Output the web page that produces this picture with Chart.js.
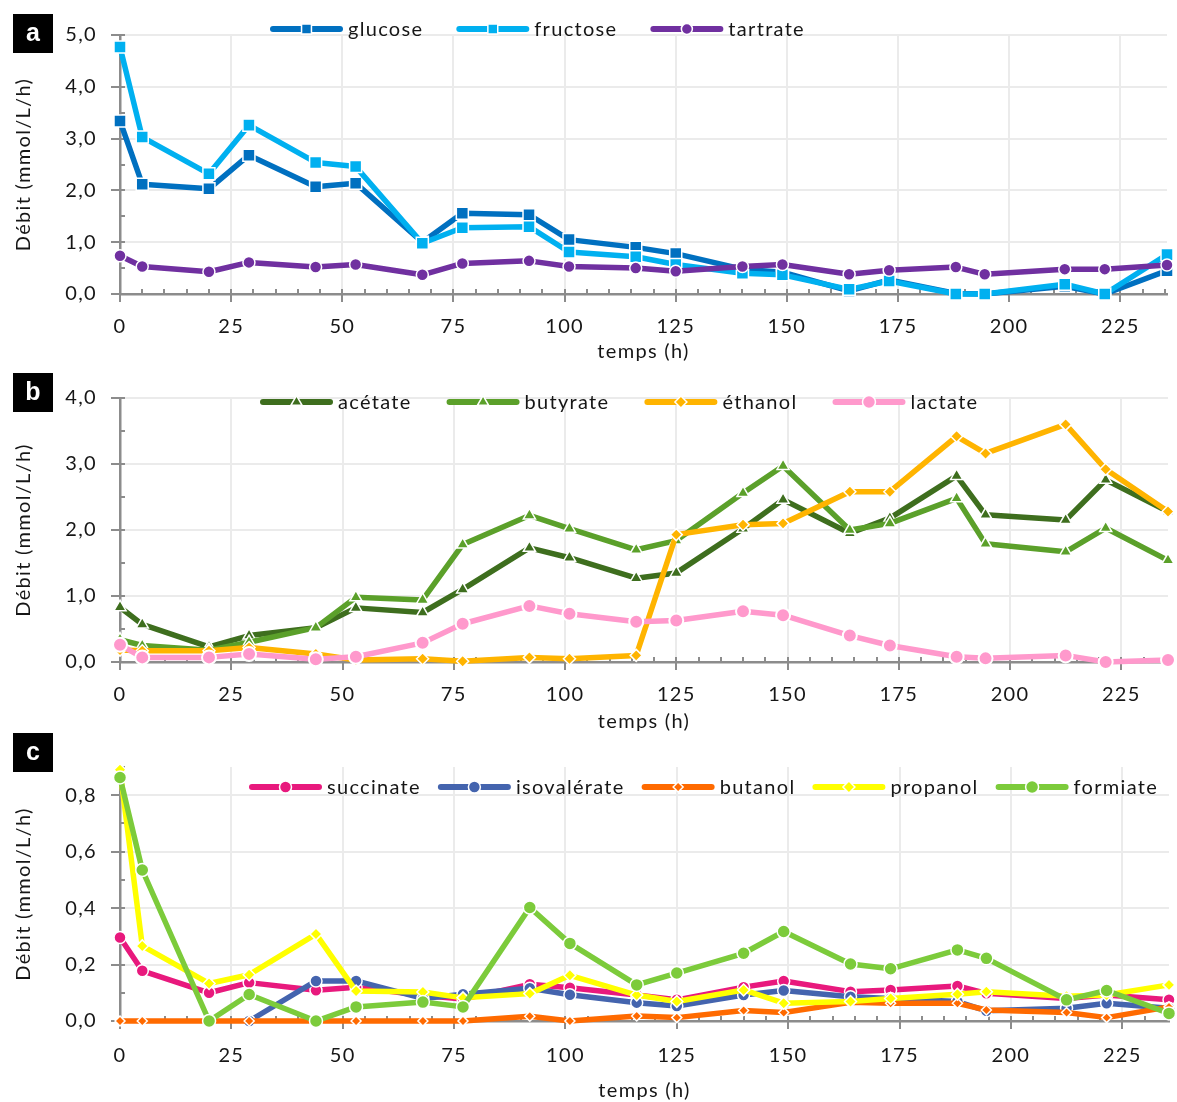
<!DOCTYPE html>
<html lang="fr">
<head>
<meta charset="utf-8">
<title>Débits – fermentation</title>
<script src="https://cdn.jsdelivr.net/npm/chart.js@4.4.1/dist/chart.umd.min.js"></script>
<style>
  html, body { margin: 0; padding: 0; background: #ffffff; }
  body { width: 1177px; height: 1102px; position: relative; overflow: hidden; }
  canvas { position: absolute; left: 0; }
</style>
</head>
<body>
<canvas id="panelA" width="1177" height="365" style="top:0px"></canvas>
<canvas id="panelB" width="1177" height="370" style="top:365px"></canvas>
<canvas id="panelC" width="1177" height="372" style="top:730px"></canvas>
<script>
// Sampling times (h)
const hours = [0, 5, 20, 29, 44, 53, 68, 77, 92, 101, 116, 125, 140, 149, 164, 173, 188, 194.5, 212.5, 221.5, 235.5];

// Panel a – sugars and tartrate (mmol/L/h)
const glucose  = [3.34, 2.12, 2.03, 2.68, 2.07, 2.14, 1.00, 1.56, 1.53, 1.05, 0.90, 0.78, 0.48, 0.42, 0.06, 0.27, 0.01, 0.00, 0.15, 0.00, 0.45];
const fructose = [4.77, 3.03, 2.32, 3.26, 2.54, 2.46, 0.98, 1.28, 1.30, 0.81, 0.72, 0.57, 0.40, 0.37, 0.09, 0.25, 0.00, 0.00, 0.19, 0.00, 0.76];
const tartrate = [0.74, 0.53, 0.43, 0.61, 0.52, 0.57, 0.37, 0.59, 0.64, 0.53, 0.50, 0.44, 0.53, 0.57, 0.38, 0.46, 0.52, 0.38, 0.48, 0.48, 0.56];

// Panel b – main products
const acetate  = [0.83, 0.57, 0.23, 0.40, 0.52, 0.82, 0.75, 1.10, 1.73, 1.58, 1.27, 1.35, 2.02, 2.46, 1.95, 2.18, 2.82, 2.23, 2.15, 2.76, 2.28];
const butyrate = [0.34, 0.25, 0.18, 0.30, 0.52, 0.98, 0.94, 1.78, 2.22, 2.02, 1.70, 1.84, 2.56, 2.97, 2.00, 2.10, 2.48, 1.79, 1.67, 2.03, 1.54];
const ethanol  = [0.18, 0.17, 0.17, 0.22, 0.12, 0.03, 0.05, 0.01, 0.07, 0.05, 0.10, 1.93, 2.08, 2.10, 2.58, 2.58, 3.42, 3.16, 3.60, 2.92, 2.28];
const lactate  = [0.26, 0.07, 0.07, 0.12, 0.04, 0.08, 0.29, 0.58, 0.85, 0.73, 0.61, 0.63, 0.77, 0.71, 0.40, 0.25, 0.08, 0.055, 0.10, 0.00, 0.03];

// Panel c – minor products
const succinate   = [0.296, 0.178, 0.100, 0.136, 0.109, 0.120, 0.090, 0.078, 0.130, 0.118, 0.092, 0.075, 0.120, 0.142, 0.104, 0.110, 0.124, 0.098, 0.080, 0.092, 0.075];
const isovalerate = [null, null, null, 0.000, 0.142, 0.142, 0.080, 0.095, 0.116, 0.093, 0.065, 0.053, 0.092, 0.108, 0.086, 0.080, 0.069, 0.036, 0.045, 0.063, 0.045];
const butanol     = [0.000, 0.000, 0.000, 0.000, 0.000, 0.000, 0.000, 0.000, 0.017, 0.000, 0.018, 0.012, 0.037, 0.030, 0.066, 0.063, 0.063, 0.039, 0.030, 0.012, 0.050];
const propanol    = [0.890, 0.266, 0.133, 0.164, 0.308, 0.106, 0.103, 0.082, 0.097, 0.162, 0.092, 0.069, 0.110, 0.063, 0.069, 0.080, 0.095, 0.104, 0.088, 0.092, 0.128];
const formiate    = [0.863, 0.535, 0.000, 0.094, 0.000, 0.050, 0.067, 0.050, 0.402, 0.275, 0.128, 0.170, 0.240, 0.317, 0.202, 0.185, 0.252, 0.222, 0.075, 0.108, 0.027];

// Axis ticks
const xTickStep = 25;
const yAxisTitle = 'Débit (mmol/L/h)';
const xAxisTitle = 'temps (h)';

const FONT = 'Lato, "Open Sans", "DejaVu Sans", sans-serif';
const SPACING = '1.3px';
const INK = '#161616';
const AXIS_GREY = '#8c8c8c';
const GRID_GREY = '#ebebeb';

const fmtDecimal = v => Number(v).toFixed(1).replace('.', ',');

function series(label, values, color, style, radius, legendRadius, borderW) {
  return {
    label,
    data: hours.map((h, i) => ({ x: h, y: values[i] })),
    borderColor: color,
    backgroundColor: color,
    borderWidth: 5.5,
    borderJoinStyle: 'round',
    pointStyle: style,
    pointRadius: radius,
    pointHoverRadius: radius,
    pointBackgroundColor: color,
    pointBorderColor: '#ffffff',
    pointBorderWidth: borderW || 1.5,
    tension: 0,
    clip: 10,
    legendRadius
  };
}

// Text spacing applied to every canvas text draw
const textSpacing = {
  id: 'textSpacing',
  beforeUpdate(chart) { chart.ctx.letterSpacing = SPACING; },
  beforeLayout(chart) { chart.ctx.letterSpacing = SPACING; },
  beforeDraw(chart) { chart.ctx.letterSpacing = SPACING; }
};

// Major (crossing) and minor (inside) tick marks on both axes
const axisTicks = {
  id: 'axisTicks',
  beforeDatasetsDraw(chart, args, opts) {
    const { ctx, chartArea: a, scales: { x, y } } = chart;
    ctx.save();
    ctx.strokeStyle = AXIS_GREY;
    ctx.lineWidth = 2;
    ctx.beginPath();
    const isMajor = (v, step) => Math.abs(v / step - Math.round(v / step)) < 1e-6;
    for (let v = x.min; v <= x.max + 1e-9; v += opts.xMinor) {
      const px = Math.round(x.getPixelForValue(v));
      ctx.moveTo(px, a.bottom - 5);
      ctx.lineTo(px, a.bottom + (isMajor(v, opts.xMajor) ? 8 : 0));
    }
    const nY = Math.round((y.max - y.min) / opts.yMinor);
    for (let k = 0; k <= nY; k++) {
      const v = y.min + k * opts.yMinor;
      const py = Math.round(y.getPixelForValue(v));
      const major = isMajor(v, opts.yMajor);
      ctx.moveTo(a.left - (major ? 9 : 0), py);
      ctx.lineTo(a.left + 5, py);
    }
    ctx.stroke();
    ctx.restore();
  }
};

// Legend row: line with centred marker, then the series name
const lineLegend = {
  id: 'lineLegend',
  afterDatasetsDraw(chart, args, opts) {
    const ctx = chart.ctx;
    ctx.save();
    ctx.letterSpacing = SPACING;
    ctx.font = `${opts.fontSize}px ${FONT}`;
    ctx.textBaseline = 'middle';
    ctx.textAlign = 'left';
    let x = opts.x;
    const y = opts.y;
    chart.data.datasets.forEach(ds => {
      ctx.strokeStyle = ds.borderColor;
      ctx.lineWidth = opts.lineWidth;
      ctx.lineCap = 'round';
      ctx.beginPath();
      ctx.moveTo(x + 3, y);
      ctx.lineTo(x + opts.lineLength - 3, y);
      ctx.stroke();
      ctx.lineCap = 'butt';
      ctx.fillStyle = ds.borderColor;
      ctx.strokeStyle = '#ffffff';
      ctx.lineWidth = 1.5;
      Chart.helpers.drawPoint(ctx, { pointStyle: ds.pointStyle, radius: ds.legendRadius, borderWidth: 1.5, rotation: 0 }, x + opts.lineLength / 2, y);
      x += opts.lineLength + opts.textGap;
      ctx.fillStyle = INK;
      ctx.fillText(ds.label, x, y + 1);
      x += ctx.measureText(ds.label).width + opts.itemGap;
    });
    ctx.restore();
  }
};

// Black panel tag with a white letter
const panelTag = {
  id: 'panelTag',
  afterDraw(chart, args, opts) {
    const ctx = chart.ctx;
    ctx.save();
    ctx.fillStyle = '#000000';
    ctx.fillRect(opts.x, opts.y, opts.w, opts.h);
    ctx.fillStyle = '#ffffff';
    ctx.letterSpacing = '0px';
    ctx.font = 'bold 25px "Liberation Sans", Arial, sans-serif';
    ctx.textAlign = 'center';
    ctx.textBaseline = 'middle';
    ctx.fillText(opts.text, opts.x + opts.w / 2, opts.y + opts.h / 2 + 1);
    ctx.restore();
  }
};

function makePanel(id, p) {
  const datasets = p.datasets.map((d, i, arr) => Object.assign(d, { order: arr.length - i }));
  const tickFont = { family: FONT, size: 20, lineHeight: 1 };
  return new Chart(document.getElementById(id), {
    type: 'line',
    data: { datasets },
    plugins: [textSpacing, axisTicks, lineLegend, panelTag],
    options: {
      responsive: false,
      animation: false,
      events: [],
      layout: { padding: { top: p.areaTop, right: 4, bottom: p.padBottom, left: 0 } },
      plugins: {
        legend: { display: false },
        tooltip: { enabled: false },
        axisTicks: { xMinor: 5, xMajor: xTickStep, yMinor: p.yMinor, yMajor: p.yStep },
        lineLegend: Object.assign({ fontSize: 20, lineWidth: 6, lineLength: 73 }, p.legend),
        panelTag: Object.assign({ w: 40, h: 39 }, p.tag)
      },
      scales: {
        x: {
          type: 'linear',
          min: 0,
          max: hours[hours.length - 1],
          border: { color: AXIS_GREY, width: 2.5 },
          grid: { color: GRID_GREY, lineWidth: 2, drawTicks: false },
          ticks: { stepSize: xTickStep, includeBounds: false, padding: p.xTickPad, color: INK, font: tickFont, maxRotation: 0, autoSkip: false },
          title: { display: true, text: xAxisTitle, color: INK, font: tickFont, padding: { top: 0, bottom: 0 } },
          afterFit(s) { s.height = p.xAxisHeight; }
        },
        y: {
          type: 'linear',
          min: 0,
          max: p.yMax,
          border: { color: AXIS_GREY, width: 2.5 },
          grid: { color: GRID_GREY, lineWidth: 2, drawTicks: false },
          ticks: { stepSize: p.yStep, includeBounds: false, padding: 23, color: INK, font: tickFont, callback: fmtDecimal },
          title: { display: true, text: yAxisTitle, color: INK, font: tickFont, padding: { top: 14, bottom: 0 } },
          afterFit(s) { s.width = 120; }
        }
      }
    }
  });
}

makePanel('panelA', {
  areaTop: 35, padBottom: 3, xAxisHeight: 68, xTickPad: 23,
  yMax: 5, yStep: 1, yMinor: 0.5,
  legend: { x: 270, y: 29, textGap: 5, itemGap: 33 },
  tag: { x: 13, y: 14, text: 'a' },
  datasets: [
    series('glucose',  glucose,  '#0070C0', 'rect',   8.5, 7),
    series('fructose', fructose, '#00B0F0', 'rect',   8.5, 7),
    series('tartrate', tartrate, '#7030A0', 'circle', 6,   5.5)
  ]
});

makePanel('panelB', {
  areaTop: 30, padBottom: 3, xAxisHeight: 70, xTickPad: 23,
  yMax: 4, yStep: 1, yMinor: 0.5,
  legend: { x: 260, y: 37, textGap: 5, itemGap: 35 },
  tag: { x: 13, y: 8, text: 'b' },
  datasets: [
    series('acétate',  acetate,  '#3E6E1E', 'triangle', 7,   6.5),
    series('butyrate', butyrate, '#5BA02A', 'triangle', 7,   6.5),
    series('éthanol',  ethanol,  '#FFB400', 'rectRot',  6,   6),
    series('lactate',  lactate,  '#FF99CC', 'circle',   7,   6.5, 2)
  ]
});

makePanel('panelC', {
  areaTop: 37, padBottom: 1, xAxisHeight: 80, xTickPad: 25,
  yMax: 0.9, yStep: 0.2, yMinor: 0.1,
  legend: { x: 249, y: 57, textGap: 5, itemGap: 17 },
  tag: { x: 13, y: 3, text: 'c' },
  datasets: [
    series('succinate',   succinate,   '#E8197D', 'circle',  6,   6),
    series('isovalérate', isovalerate, '#4464AE', 'circle',  6,   6),
    series('butanol',     butanol,     '#FF6A00', 'rectRot', 5,   5),
    series('propanol',    propanol,    '#FFFF00', 'rectRot', 6,   6),
    series('formiate',    formiate,    '#7CCB3B', 'circle',  6.5, 6.5)
  ]
});
</script>
</body>
</html>
